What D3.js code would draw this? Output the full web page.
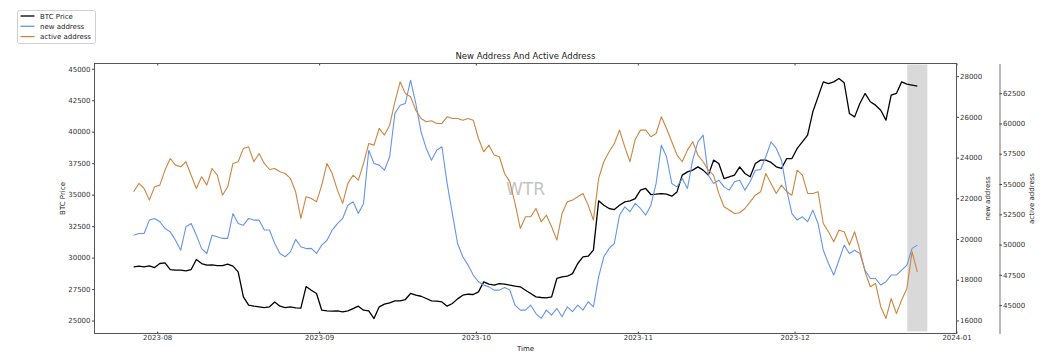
<!DOCTYPE html>
<meta charset="utf-8">

<!-- Load d3.js -->
<script src="https://d3js.org/d3.v7.min.js"></script>

<style>
  body { margin: 0; background: #fff; }
  text { font-family: "DejaVu Sans", sans-serif; }
</style>

<!-- Create a div where the graph will take place -->
<div id="my_dataviz"></div>

<script>

// daily readings, first one on 2023-07-27 (noon)
var startDay = new Date(2023, 6, 27, 12);

var btcPrice = [
  29260, 29320, 29260, 29340, 29210,
  // Aug
  29530, 29580, 29050, 29000, 29000, 28950, 29050, 29850, 29530, 29400,
  29420, 29370, 29370, 29480, 29320, 28870, 26880, 26220, 26140, 26090,
  26030, 26090, 26480, 26140, 26030, 26090, 26010, 25980, 27700, 27410, 27150,
  // Sep
  25820, 25770, 25740, 25770, 25690, 25770, 25950, 26140, 25820, 25770,
  25160, 26090, 26300, 26400, 26560, 26560, 26670, 27150, 27010, 26930,
  26750, 26560, 26540, 26480, 26140, 26350, 26720, 27010, 27090, 27070,
  // Oct
  27280, 28070, 27890, 27810, 27940, 27890, 27810, 27730, 27680, 27410,
  27150, 26880, 26830, 26800, 26880, 28340, 28470, 28520, 28730, 29530,
  30060, 30110, 30590, 34510, 34160, 33900, 33820, 34160, 34430, 34510, 34690,
  // Nov
  35360, 35490, 35010, 35040, 35090, 35040, 34880, 35220, 36550, 36810,
  36950, 37210, 36950, 36550, 37740, 37480, 36280, 36420, 36550, 37210,
  36680, 36420, 37480, 37740, 37740, 37560, 37210, 37080, 37870, 37870,
  // Dec
  38670, 39200, 39730, 41580, 42770, 43960, 43830, 43960, 44230, 43890,
  41450, 41180, 42240, 43040, 42380, 42110, 41710, 40920, 42900, 43040,
  43960, 43780, 43700, 43620
];

var newAddress = [
  20190, 20270, 20270, 20930, 21010,
  20850, 20520, 20350, 19940, 19450, 20600, 20760, 20190, 19530, 19290,
  20190, 20110, 20030, 20030, 21250, 20760, 20680, 21010, 20930, 20930,
  20440, 20440, 19780, 19290, 19130, 19370, 19980, 19620, 19530, 19540, 19290,
  19700, 19940, 20440, 20760, 21010, 21660, 21830, 21250, 21750, 24360,
  23710, 23630, 23380, 24040, 26170, 26570, 26660, 27800, 26660, 25270,
  24450, 23870, 24360, 24530, 22730, 21250, 19780, 19130, 18720, 18230,
  17900, 17740, 17650, 17490, 17490, 17620, 17490, 16750, 16510, 16510,
  16750, 16340, 16100, 16510, 16260, 16590, 16180, 16670, 16430, 16750,
  16510, 16920, 16670, 18140, 19130, 19540, 19780, 21170, 21580, 21340,
  21750, 21500, 21170, 21660, 22730, 24610, 24040, 22730, 22560, 22970,
  22480, 23870, 24770, 25100, 23140, 22730, 22890, 22560, 22400, 22810,
  22890, 22400, 22810, 23380, 23410, 24040, 24770, 24450, 23870, 22400,
  21250, 20930, 21090, 20850, 21420, 20760, 19450, 18800, 18230, 18960,
  19700, 19290, 19450, 19290, 18470, 18060, 18060, 17740, 17900, 18230,
  18230, 18470, 18720, 19540, 19700
];

var activeAddress = [
  54360, 55050, 54630, 53670, 54770,
  54910, 56150, 57110, 56560, 56420, 56840, 55730, 54630, 55600, 54910,
  56280, 55730, 54080, 54770, 56700, 56840, 57940, 58070, 56840, 57520,
  56700, 56200, 56280, 56010, 55870, 55460, 54360, 52160, 53950, 53810, 53530,
  54910, 56700, 55870, 54500, 53400, 55050, 55730, 55320, 56700, 58350,
  58210, 59590, 59040, 59860, 61790, 63440, 62480, 62200, 61100, 60410,
  60140, 60220, 60000, 60000, 60550, 60410, 60410, 60270, 60410, 60270,
  58760, 57660, 58210, 57390, 57250, 55870, 55180, 53400, 51330, 52300,
  52300, 52980, 51880, 52430, 51470, 50370, 52570, 53530, 53670, 53950,
  54220, 53260, 52020, 55460, 56840, 57660, 58350, 59450, 58070, 56840,
  58680, 59450, 59450, 58900, 59170, 60550, 59590, 58490, 57390, 56840,
  57800, 58490, 57390, 56840, 56150, 55730, 54220, 53120, 52850, 52570,
  52630, 52980, 53530, 54080, 54360, 55870, 55050, 54220, 54910, 54360,
  54080, 56150, 55730, 54220, 54220, 54360, 51740, 51060, 50230, 51190,
  51060, 49960, 51060, 49540, 47750, 46520, 46790, 44870, 43900, 45550,
  44300, 45420, 46380, 49410, 47750
];

var btcTicks = [25000, 27500, 30000, 32500, 35000, 37500, 40000, 42500, 45000];
var newTicks = [16000, 18000, 20000, 22000, 24000, 26000, 28000];
var activeTicks = [45000, 47500, 50000, 52500, 55000, 57500, 60000, 62500];
var monthTicks = ["2023-08-01", "2023-09-01", "2023-10-01", "2023-11-01", "2023-12-01", "2024-01-01"];
var shadeSpan = ["2023-12-22T14:00", "2023-12-26T10:00"];

var seriesNames = ["BTC Price", "new address", "active address"];
var seriesColors = ["#000000", "#6495ED", "#CD853F"];

var dates = btcPrice.map(function(d, i) { return d3.timeDay.offset(startDay, i); });
var parseDay = d3.timeParse("%Y-%m-%d");
var parseHour = d3.timeParse("%Y-%m-%dT%H:%M");

// set the dimensions and margins of the graph
var margin = {top: 63, right: 89, bottom: 28, left: 94},
    width = 1045 - margin.left - margin.right,
    height = 361 - margin.top - margin.bottom;

var root = d3.select("#my_dataviz")
  .append("svg")
    .attr("width", 1045)
    .attr("height", 361);

var svg = root.append("g")
    .attr("transform", "translate(" + (margin.left + 0.5) + "," + (margin.top + 0.5) + ")");

// scales
var x = d3.scaleTime()
  .domain([new Date(2023, 6, 20), new Date(2024, 0, 1)])
  .range([0, width]);
var yBtc = d3.scaleLinear().domain([23970, 45420]).range([height, 0]);
var yNew = d3.scaleLinear().domain([15360, 28620]).range([height, 0]);
var yActive = d3.scaleLinear().domain([42660, 64950]).range([height, 0]);

// shaded span
svg.append("rect")
  .attr("x", x(parseHour(shadeSpan[0])))
  .attr("width", x(parseHour(shadeSpan[1])) - x(parseHour(shadeSpan[0])))
  .attr("y", 1)
  .attr("height", height - 3)
  .attr("fill", "#d9d9d9");

// watermark
svg.append("text")
  .attr("x", 431)
  .attr("y", 131)
  .attr("text-anchor", "middle")
  .style("font-size", "17px")
  .attr("fill", "#c4c4c4")
  .text("WTR");

// lines
function drawLine(values, yScale, color, w) {
  var line = d3.line()
    .x(function(d, i) { return x(dates[i]); })
    .y(function(d) { return yScale(d); });
  svg.append("path")
    .datum(values)
    .attr("fill", "none")
    .attr("stroke", color)
    .attr("stroke-width", w)
    .attr("stroke-linejoin", "round")
    .attr("d", line);
}
drawLine(btcPrice, yBtc, seriesColors[0], 1.3);
drawLine(newAddress, yNew, seriesColors[1], 1.1);
drawLine(activeAddress, yActive, seriesColors[2], 1.1);

// axes
function styleAxis(g) {
  g.select(".domain").remove();
  g.selectAll(".tick line").attr("stroke", "#444");
  g.selectAll(".tick text").attr("fill", "#333").style("font-size", "7px").style("font-family", "DejaVu Sans");
}

var months = monthTicks.map(parseDay);

svg.append("g")
  .attr("transform", "translate(0," + height + ")")
  .call(d3.axisBottom(x).tickValues(months).tickFormat(d3.timeFormat("%Y-%m")).tickSize(-2).tickPadding(2))
  .call(styleAxis);

svg.append("g")
  .call(d3.axisTop(x).tickValues(months).tickFormat("").tickSize(-2))
  .call(styleAxis);

svg.append("g")
  .call(d3.axisLeft(yBtc).tickValues(btcTicks).tickFormat(d3.format("d")).tickSize(2.5).tickPadding(1.5))
  .call(styleAxis);

svg.append("g")
  .attr("transform", "translate(" + width + ",0)")
  .call(d3.axisRight(yNew).tickValues(newTicks).tickFormat(d3.format("d")).tickSize(2.5).tickPadding(1))
  .call(styleAxis);

var activeAxis = svg.append("g")
  .attr("transform", "translate(" + (width + 43) + ",0)")
  .call(d3.axisRight(yActive).tickValues(activeTicks).tickFormat(d3.format("d")).tickSize(2.5).tickSizeOuter(0).tickPadding(1));
activeAxis.select(".domain").attr("stroke", "#9a9a9a").attr("stroke-width", 1.4);
activeAxis.selectAll(".tick line").attr("stroke", "#444");
activeAxis.selectAll(".tick text").attr("fill", "#333").style("font-size", "7px").style("font-family", "DejaVu Sans");

// frame
svg.append("rect")
  .attr("width", width)
  .attr("height", height)
  .attr("fill", "none")
  .attr("stroke", "#555")
  .attr("stroke-width", 1);

// title and labels
svg.append("text")
  .attr("x", width / 2)
  .attr("y", -5)
  .attr("text-anchor", "middle")
  .attr("fill", "#222")
  .style("font-size", "8.5px")
  .text("New Address And Active Address");

svg.append("text")
  .attr("x", width / 2)
  .attr("y", height + 17)
  .attr("text-anchor", "middle")
  .attr("fill", "#222")
  .style("font-size", "7px")
  .text("Time");

var yLabels = [[-30, seriesNames[0]], [width + 33, seriesNames[1]], [width + 77, seriesNames[2]]];
yLabels.forEach(function(l) {
  svg.append("text")
    .attr("transform", "translate(" + l[0] + "," + (height / 2) + ") rotate(-90)")
    .attr("text-anchor", "middle")
    .attr("fill", "#222")
    .style("font-size", "7px")
    .text(l[1]);
});

// legend
var legend = root.append("g").attr("transform", "translate(17.5,10.5)");
legend.append("rect")
  .attr("width", 78)
  .attr("height", 33)
  .attr("rx", 2)
  .attr("fill", "#fff")
  .attr("stroke", "#d0d0d0");
seriesNames.forEach(function(name, i) {
  var row = legend.append("g").attr("transform", "translate(0," + (5.5 + i * 10.3) + ")");
  row.append("line")
    .attr("x1", 3).attr("x2", 17)
    .attr("stroke", seriesColors[i])
    .attr("stroke-width", 1.3);
  row.append("text")
    .attr("x", 22.5)
    .attr("y", 2.6)
    .attr("fill", "#222")
    .style("font-size", "7px")
    .text(name);
});

</script>
